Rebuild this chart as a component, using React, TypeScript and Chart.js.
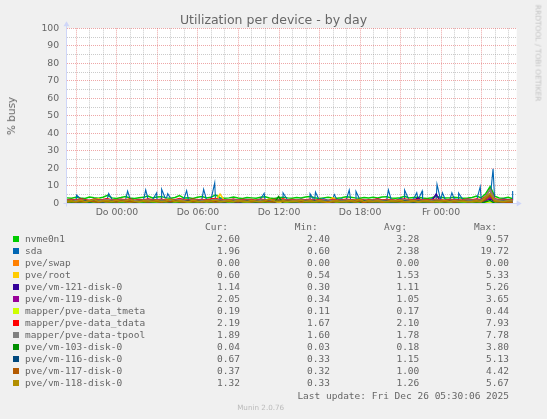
import { Fragment, useEffect, useRef } from 'react';
import Chart from 'chart.js/auto';

// sample grid: hours relative to "Do 00:00", one sample every 20 minutes
const T0 = -3.7;
const STEP = 1 / 3;
const X_MIN = -3.72;
const X_MAX = 29.6;

const hourTicks = [-3, -2, -1, 0, 1, 2, 3, 4, 5, 6, 7, 8, 9, 10, 11, 12, 13, 14, 15, 16, 17, 18, 19, 20, 21, 22, 23, 24, 25, 26, 27, 28, 29];
const labelHours = [0, 6, 12, 18, 24];
const labelTexts = ['Do 00:00', 'Do 06:00', 'Do 12:00', 'Do 18:00', 'Fr 00:00'];

const devices = [
  'nvme0n1', 'sda', 'pve/swap', 'pve/root', 'pve/vm-121-disk-0', 'pve/vm-119-disk-0',
  'mapper/pve-data_tmeta', 'mapper/pve-data_tdata', 'mapper/pve-data-tpool',
  'pve/vm-103-disk-0', 'pve/vm-116-disk-0', 'pve/vm-117-disk-0', 'pve/vm-118-disk-0',
];
const colors = [
  '#00CC00', '#0066B3', '#FF8000', '#FFCC00', '#330099', '#990099', '#CCFF00',
  '#FF0000', '#808080', '#008F00', '#00487D', '#B35A00', '#B38F00',
];
const curValues = ['2.60', '1.96', '0.00', '0.60', '1.14', '2.05', '0.19', '2.19', '1.89', '0.04', '0.67', '0.37', '1.32'];
const minValues = ['2.40', '0.60', '0.00', '0.54', '0.30', '0.34', '0.11', '1.67', '1.60', '0.03', '0.33', '0.32', '0.33'];
const avgValues = ['3.28', '2.38', '0.00', '1.53', '1.11', '1.05', '0.17', '2.10', '1.78', '0.18', '1.15', '1.00', '1.26'];
const maxValues = ['9.57', '19.72', '0.00', '5.33', '5.26', '3.65', '0.44', '7.93', '7.78', '3.80', '5.13', '4.42', '5.67'];

const nvme0n1 = [
  3.1, 2.9, 3.4, 3.0, 2.8, 3.6, 3.2, 2.9, 3.5, 4.6,
  3.1, 2.8, 3.3, 3.9, 3.0, 2.7, 3.2, 3.4, 4.1, 3.0,
  3.6, 3.8, 3.1, 2.9, 3.3, 4.4, 3.0, 3.2, 2.8, 3.5,
  3.9, 3.1, 3.4, 4.8, 3.2, 2.9, 3.1, 3.6, 3.0, 2.8,
  3.3, 3.1, 2.9, 3.4, 3.7, 3.0, 2.8, 3.2, 3.5, 3.1,
  2.9, 3.3, 3.0, 3.6, 3.9, 3.2, 2.8, 3.1, 3.4, 3.0,
  2.9, 3.2, 3.7, 3.5, 3.1, 2.9, 3.3, 3.0, 3.4, 3.1,
  3.6, 3.8, 3.0, 2.9, 3.2, 4.0, 3.1, 3.3, 3.5, 3.0,
  2.8, 3.2, 3.9, 3.4, 3.0, 3.1, 3.5, 3.2, 2.9, 3.0,
  3.3, 4.2, 3.1, 5.5, 9.57, 4.1, 3.0, 2.9, 3.4, 2.6,
];
const sda = [
  1.8, 2.2, 1.5, 2.6, 1.9, 1.3, 2.4, 2.0, 1.7, 2.9,
  2.1, 1.6, 2.3, 1.9, 2.7, 1.4, 2.2, 1.8, 2.5, 2.0,
  1.7, 2.4, 1.9, 2.8, 1.5, 2.1, 2.6, 1.8, 2.3, 1.6,
  2.5, 1.9, 2.2, 1.4, 2.7, 2.0, 1.8, 2.4, 1.6, 2.1,
  2.3, 0.9, 1.8, 2.5, 2.0, 1.7, 2.2, 1.5, 2.6, 1.9,
  2.1, 1.6, 2.4, 1.8, 2.2, 1.3, 2.0, 2.7, 1.7, 2.3,
  1.9, 2.5, 1.6, 2.2, 1.8, 2.4, 0.6, 2.1, 1.9, 2.6,
  2.0, 1.7, 2.3, 1.5, 2.8, 2.1, 1.8, 2.4, 1.9, 2.2,
  1.6, 2.5, 2.0, 1.8, 2.3, 1.7, 2.6, 2.1, 1.9, 2.4,
  2.2, 1.8, 2.7, 2.0, 2.5, 2.3, 1.9, 2.6, 2.2, 1.96,
];
// short sda bursts that fall between the 20-minute samples
const sdaPeakHours = [-2.99, -0.61, 0.79, 2.13, 2.94, 3.31, 3.76, 5.16, 6.42, 7.24, 10.9, 12.3, 14.3, 14.7, 16.1, 17.2, 17.7, 20.1, 21.3, 22.2, 22.6, 23.7, 24.1, 24.8, 25.3, 26.9, 27.85, 29.3];
const sdaPeakValues = [4.7, 5.6, 7.0, 7.6, 6.0, 8.0, 5.5, 7.2, 8.0, 11.7, 5.7, 6.0, 5.5, 6.4, 5.0, 7.6, 6.8, 7.6, 7.6, 6.0, 7.0, 10.8, 6.0, 6.0, 5.8, 9.5, 19.72, 7.0];
const pveSwap = [
  0, 0, 0, 0, 0, 0, 0, 0, 0, 0,
  0, 0, 0, 0, 0, 0, 0, 0, 0, 0,
  0, 0, 0, 0, 0, 0, 0, 0, 0, 0,
  0, 0, 0, 0, 0, 0, 0, 0, 0, 0,
  0, 0, 0, 0, 0, 0, 0, 0, 0, 0,
  0, 0, 0, 0, 0, 0, 0, 0, 0, 0,
  0, 0, 0, 0, 0, 0, 0, 0, 0, 0,
  0, 0, 0, 0, 0, 0, 0, 0, 0, 0,
  0, 0, 0, 0, 0, 0, 0, 0, 0, 0,
  0, 0, 0, 0, 0, 0, 0, 0, 0, 0,
];
const pveRoot = [
  1.4, 1.8, 1.2, 2.1, 1.5, 0.9, 1.7, 2.6, 1.3, 1.6,
  1.1, 1.9, 1.4, 2.3, 1.0, 1.6, 1.3, 1.8, 2.0, 1.2,
  1.7, 1.4, 2.4, 1.1, 1.5, 1.9, 1.3, 1.6, 1.0, 2.2,
  1.4, 1.8, 1.2, 1.6, 5.33, 1.5, 1.1, 1.7, 1.3, 2.0,
  1.5, 1.2, 1.8, 1.4, 1.0, 1.9, 1.6, 1.3, 2.5, 1.4,
  1.1, 1.7, 1.3, 1.9, 1.5, 1.2, 1.8, 1.4, 1.0, 3.2,
  1.6, 1.3, 1.7, 1.1, 2.1, 1.5, 1.2, 1.8, 1.4, 1.6,
  1.3, 1.9, 1.2, 1.5, 1.7, 1.0, 2.3, 1.4, 1.6, 1.2,
  1.8, 1.5, 1.1, 1.7, 1.3, 2.0, 1.4, 1.6, 1.2, 1.9,
  1.5, 1.3, 1.7, 2.8, 4.1, 1.6, 1.2, 1.4, 0.9, 0.6,
];
const vm121 = [
  0.9, 1.3, 0.7, 1.1, 1.6, 0.8, 1.2, 0.5, 1.4, 1.0,
  0.8, 1.5, 1.1, 0.6, 1.3, 0.9, 1.7, 1.0, 0.7, 1.2,
  1.4, 0.8, 1.1, 1.9, 0.9, 1.2, 0.6, 1.3, 1.0, 0.8,
  1.5, 1.1, 0.7, 1.3, 0.9, 1.6, 1.0, 0.4, 1.2, 0.9,
  1.1, 1.4, 0.8, 1.0, 1.3, 0.7, 1.2, 0.9, 1.5, 1.0,
  0.8, 1.2, 1.0, 0.6, 1.4, 1.1, 0.9, 1.3, 0.7, 1.0,
  1.2, 0.9, 1.5, 1.0, 0.8, 1.3, 1.1, 0.3, 1.2, 0.9,
  1.0, 1.4, 0.8, 1.1, 1.3, 0.9, 1.2, 1.6, 3.1, 1.1,
  0.9, 1.3, 5.26, 1.0, 1.2, 0.8, 1.4, 1.1, 0.9, 1.3,
  1.0, 0.8, 1.2, 1.9, 2.4, 1.1, 0.9, 1.3, 1.0, 1.14,
];
const vm119 = [
  1.0, 0.7, 1.3, 0.9, 1.5, 0.6, 1.1, 1.4, 0.8, 1.2,
  0.9, 1.6, 0.7, 1.1, 1.3, 0.8, 1.0, 1.4, 0.6, 1.2,
  1.1, 0.8, 1.5, 0.9, 1.2, 0.7, 1.3, 1.0, 1.6, 0.8,
  1.2, 0.9, 1.4, 0.6, 1.1, 1.3, 0.8, 1.5, 1.0, 0.7,
  1.3, 1.0, 0.8, 1.2, 0.9, 1.4, 0.7, 1.1, 1.3, 0.9,
  1.0, 1.5, 0.8, 1.2, 0.6, 1.1, 1.4, 0.9, 1.2, 0.8,
  1.4, 0.7, 1.0, 1.3, 0.9, 1.1, 0.34, 1.2, 0.8, 1.5,
  0.9, 1.2, 1.0, 0.7, 1.4, 1.1, 0.8, 1.3, 0.9, 1.0,
  1.2, 0.8, 1.1, 1.5, 0.9, 1.3, 0.7, 1.0, 1.2, 0.9,
  1.1, 1.4, 0.8, 1.2, 3.65, 1.0, 0.9, 1.3, 1.1, 2.05,
];
const tmeta = [
  0.15, 0.18, 0.14, 0.21, 0.16, 0.13, 0.19, 0.17, 0.15, 0.22,
  0.16, 0.14, 0.18, 0.13, 0.20, 0.15, 0.17, 0.12, 0.19, 0.16,
  0.18, 0.15, 0.21, 0.14, 0.17, 0.16, 0.13, 0.19, 0.15, 0.18,
  0.14, 0.20, 0.16, 0.17, 0.13, 0.18, 0.15, 0.19, 0.16, 0.14,
  0.17, 0.15, 0.19, 0.13, 0.16, 0.18, 0.14, 0.20, 0.15, 0.17,
  0.16, 0.13, 0.18, 0.15, 0.19, 0.14, 0.17, 0.16, 0.11, 0.18,
  0.15, 0.17, 0.14, 0.19, 0.16, 0.18, 0.13, 0.17, 0.15, 0.20,
  0.16, 0.14, 0.18, 0.15, 0.17, 0.13, 0.19, 0.16, 0.14, 0.18,
  0.17, 0.15, 0.20, 0.14, 0.16, 0.18, 0.15, 0.17, 0.13, 0.19,
  0.16, 0.18, 0.15, 0.31, 0.44, 0.17, 0.15, 0.18, 0.16, 0.19,
];
const tdata = [
  2.0, 2.2, 1.9, 2.4, 2.1, 1.8, 2.3, 2.0, 2.2, 2.6,
  1.9, 2.1, 2.3, 2.0, 2.5, 1.8, 2.2, 1.9, 2.4, 2.1,
  2.0, 2.3, 1.8, 2.2, 2.0, 2.7, 1.9, 2.1, 2.3, 2.0,
  2.2, 1.9, 2.4, 2.8, 2.1, 1.8, 2.0, 2.3, 1.9, 2.2,
  2.0, 2.1, 1.8, 2.3, 2.0, 1.9, 2.2, 2.0, 2.4, 1.8,
  2.1, 1.9, 2.2, 2.0, 2.3, 1.8, 2.1, 1.9, 1.67, 2.2,
  2.0, 1.9, 2.3, 2.1, 1.8, 2.2, 2.0, 1.9, 2.1, 2.4,
  1.9, 2.2, 2.0, 1.8, 2.1, 2.5, 2.0, 1.9, 2.2, 2.0,
  2.1, 1.9, 2.3, 2.0, 1.8, 2.2, 2.1, 1.9, 2.0, 2.3,
  2.0, 2.4, 2.1, 3.9, 7.93, 2.6, 2.0, 2.2, 1.9, 2.19,
];
const tpool = [
  1.7, 1.8, 1.6, 1.9, 1.7, 1.65, 1.8, 1.7, 1.75, 2.1,
  1.7, 1.8, 1.9, 1.7, 2.0, 1.6, 1.8, 1.7, 1.9, 1.75,
  1.7, 1.9, 1.6, 1.8, 1.7, 2.2, 1.65, 1.8, 1.9, 1.7,
  1.8, 1.65, 1.9, 2.3, 1.8, 1.6, 1.7, 1.85, 1.7, 1.8,
  1.7, 1.75, 1.6, 1.9, 1.7, 1.65, 1.8, 1.7, 1.9, 1.6,
  1.8, 1.7, 1.85, 1.7, 1.9, 1.6, 1.75, 1.7, 1.6, 1.8,
  1.7, 1.65, 1.9, 1.75, 1.6, 1.8, 1.7, 1.65, 1.75, 1.9,
  1.65, 1.8, 1.7, 1.6, 1.75, 2.0, 1.7, 1.65, 1.8, 1.7,
  1.75, 1.65, 1.9, 1.7, 1.6, 1.8, 1.75, 1.65, 1.7, 1.85,
  1.7, 1.95, 1.75, 3.6, 7.78, 2.2, 1.7, 1.8, 1.65, 1.89,
];
const vm103 = [
  0.08, 0.12, 0.05, 0.15, 0.07, 0.10, 0.06, 0.13, 0.09, 0.05,
  0.11, 0.07, 0.14, 0.06, 0.09, 0.12, 0.05, 0.10, 0.08, 0.13,
  0.06, 0.10, 0.08, 0.15, 0.07, 0.11, 0.05, 0.09, 0.12, 0.06,
  0.10, 0.07, 0.13, 0.05, 0.09, 0.11, 0.06, 0.08, 0.12, 0.07,
  0.09, 0.05, 0.11, 0.08, 0.14, 0.06, 0.10, 3.80, 0.07, 0.09,
  0.12, 0.06, 0.08, 0.10, 0.05, 0.13, 0.07, 0.09, 0.11, 0.06,
  0.08, 0.12, 0.05, 0.10, 0.07, 0.09, 1.40, 0.06, 0.11, 0.08,
  0.05, 0.10, 0.07, 0.12, 0.06, 0.09, 0.08, 0.11, 0.05, 0.10,
  0.07, 0.09, 0.12, 0.06, 0.10, 0.08, 0.05, 0.11, 0.07, 0.09,
  0.06, 0.10, 0.08, 0.90, 1.60, 0.07, 0.05, 0.08, 0.06, 0.04,
];
const vm116 = [
  1.0, 1.4, 0.8, 1.2, 1.6, 0.9, 1.3, 1.1, 0.7, 1.5,
  1.2, 0.9, 1.4, 1.0, 1.7, 0.8, 1.1, 1.3, 0.9, 1.2,
  1.5, 1.0, 1.2, 0.8, 1.4, 1.1, 0.9, 1.6, 1.0, 1.3,
  0.9, 1.2, 1.4, 1.0, 1.1, 0.8, 1.5, 1.2, 0.33, 1.1,
  1.3, 1.0, 1.2, 0.9, 1.4, 1.1, 0.8, 1.3, 1.0, 1.5,
  1.1, 0.9, 1.3, 1.2, 1.0, 1.4, 0.9, 1.2, 1.1, 0.8,
  1.4, 1.0, 1.2, 0.9, 1.3, 1.1, 1.5, 1.0, 1.2, 0.9,
  1.1, 1.3, 0.9, 1.2, 1.0, 1.4, 1.1, 0.8, 1.3, 1.0,
  1.2, 0.9, 1.4, 1.1, 1.0, 1.3, 0.9, 1.2, 1.5, 1.0,
  1.1, 1.3, 1.0, 2.6, 5.13, 1.2, 0.9, 1.1, 0.8, 0.67,
];
const vm117 = [
  0.9, 1.2, 0.7, 1.1, 0.8, 1.3, 1.0, 0.6, 1.2, 0.9,
  1.1, 0.8, 1.4, 0.9, 1.0, 0.7, 1.2, 1.1, 0.8, 1.3,
  1.0, 0.7, 1.1, 0.9, 1.3, 1.0, 0.8, 1.2, 0.9, 1.1,
  0.8, 1.2, 1.0, 0.7, 1.1, 0.9, 1.3, 1.0, 0.8, 1.2,
  1.0, 0.9, 1.1, 0.8, 1.2, 1.0, 0.7, 1.1, 0.9, 1.3,
  0.9, 1.1, 0.8, 1.0, 1.2, 0.9, 1.1, 0.7, 1.0, 0.8,
  1.2, 0.9, 1.0, 1.1, 0.8, 1.3, 0.32, 1.0, 0.9, 1.1,
  0.8, 1.0, 1.2, 0.9, 1.1, 0.7, 1.0, 1.2, 0.9, 1.0,
  1.1, 0.8, 1.0, 1.2, 0.9, 1.1, 0.8, 1.0, 1.3, 0.9,
  1.0, 1.2, 0.9, 2.3, 4.42, 1.1, 0.9, 0.8, 0.6, 0.37,
];
const vm118 = [
  1.2, 1.5, 0.9, 1.8, 1.1, 1.4, 2.2, 1.0, 1.3, 1.6,
  1.1, 1.7, 1.0, 1.4, 2.0, 1.2, 0.9, 1.5, 1.3, 1.1,
  1.6, 1.0, 1.3, 2.4, 1.1, 1.4, 1.2, 0.9, 1.7, 1.2,
  1.0, 1.5, 1.3, 1.8, 1.1, 1.2, 1.6, 1.0, 1.4, 1.3,
  1.1, 1.6, 1.2, 1.0, 1.5, 2.6, 1.3, 1.1, 1.4, 1.0,
  1.3, 1.2, 1.7, 1.1, 1.4, 1.0, 1.5, 1.2, 0.33, 1.3,
  1.4, 1.1, 1.3, 1.6, 1.2, 2.1, 1.0, 1.4, 1.2, 1.5,
  1.2, 1.0, 1.4, 1.3, 1.7, 1.1, 1.2, 1.5, 1.0, 1.3,
  1.5, 1.1, 1.3, 1.2, 1.6, 1.0, 1.4, 1.2, 1.3, 1.1,
  1.2, 1.4, 1.1, 3.4, 5.67, 1.5, 1.2, 1.0, 1.3, 1.32,
];

const seriesValues = [nvme0n1, sda, pveSwap, pveRoot, vm121, vm119, tmeta, tdata, tpool, vm103, vm116, vm117, vm118];

const FONT = '#666666';
const AXIS = '#CFD6F8';
const MGRID = 'rgba(222, 80, 80, 0.5)';
const GRID = 'rgba(140, 140, 140, 0.45)';
const sans = "'DejaVu Sans', sans-serif";
const mono = "'DejaVu Sans Mono', monospace";

const toPoints = (values: number[]) => values.map((y, i) => ({ x: T0 + i * STEP, y }));

const canvasBack = {
  id: 'canvasBack',
  beforeDraw(chart: any) {
    const { ctx, chartArea } = chart;
    ctx.save();
    ctx.fillStyle = '#FFFFFF';
    ctx.fillRect(chartArea.left, chartArea.top, chartArea.right - chartArea.left, chartArea.bottom - chartArea.top);
    ctx.restore();
  },
};

// rrdtool style axis lines with arrow heads
const axisArrows = {
  id: 'axisArrows',
  afterDatasetsDraw(chart: any) {
    const { ctx, chartArea } = chart;
    const x0 = Math.round(chartArea.left) - 0.5;
    const y0 = Math.round(chartArea.bottom) + 0.5;
    ctx.save();
    ctx.strokeStyle = AXIS;
    ctx.fillStyle = AXIS;
    ctx.lineWidth = 1;
    ctx.beginPath();
    ctx.moveTo(x0, y0 + 3);
    ctx.lineTo(x0, chartArea.top - 4);
    ctx.moveTo(x0 - 3, y0);
    ctx.lineTo(chartArea.right + 1, y0);
    ctx.stroke();
    ctx.beginPath();
    ctx.moveTo(x0 - 3, chartArea.top - 2);
    ctx.lineTo(x0 + 3, chartArea.top - 2);
    ctx.lineTo(x0, chartArea.top - 7);
    ctx.closePath();
    ctx.fill();
    ctx.beginPath();
    ctx.moveTo(chartArea.right, y0 - 3);
    ctx.lineTo(chartArea.right, y0 + 3);
    ctx.lineTo(chartArea.right + 5, y0);
    ctx.closePath();
    ctx.fill();
    ctx.restore();
  },
};

export default function App() {
  const canvasRef = useRef<HTMLCanvasElement>(null);

  useEffect(() => {
    if (!canvasRef.current) return;

    const datasets = seriesValues.map((values, i) => {
      let data = toPoints(values);
      if (i === 1) {
        data = [...data, ...sdaPeakHours.map((x, k) => ({ x, y: sdaPeakValues[k] }))].sort((a, b) => a.x - b.x);
      }
      return {
        label: devices[i],
        data,
        borderColor: colors[i],
        backgroundColor: colors[i],
        borderWidth: i === 1 ? 1.1 : 1.5,
        pointRadius: 0,
        tension: 0,
        fill: false,
        order: -i,
      };
    });

    const chart = new Chart(canvasRef.current, {
      type: 'line',
      data: { datasets },
      options: {
        animation: false,
        responsive: false,
        events: [],
        layout: { padding: { top: 28.3, right: 30.3, bottom: 0, left: 0 } },
        plugins: {
          legend: { display: false },
          tooltip: { enabled: false },
        },
        scales: {
          x: {
            type: 'linear',
            min: X_MIN,
            max: X_MAX,
            afterBuildTicks: (scale: any) => {
              scale.ticks = hourTicks.map((value) => ({ value }));
            },
            afterFit: (scale: any) => {
              scale.height = 419 - 203.3;
            },
            ticks: {
              autoSkip: false,
              maxRotation: 0,
              minRotation: 0,
              padding: 3.5,
              color: FONT,
              font: { family: sans, size: 9.3 },
              callback: (value: any) => {
                const k = labelHours.indexOf(Number(value));
                return k >= 0 ? labelTexts[k] : '';
              },
            },
            grid: {
              drawTicks: false,
              lineWidth: 1,
              color: (ctx: any) => (ctx.tick && ctx.tick.value % 3 === 0 ? MGRID : GRID),
            },
            border: { display: false, dash: [1, 1] },
          },
          y: {
            min: 0,
            max: 100,
            afterFit: (scale: any) => {
              scale.width = 66.7;
            },
            ticks: {
              stepSize: 5,
              autoSkip: false,
              padding: 7.5,
              color: FONT,
              font: { family: sans, size: 9.3 },
              callback: (value: any) => (Number(value) % 10 === 0 ? String(value) : ''),
            },
            grid: {
              drawTicks: false,
              lineWidth: 1,
              color: (ctx: any) => (ctx.tick && ctx.tick.value % 10 === 0 ? MGRID : GRID),
            },
            border: { display: false, dash: [1, 1] },
          },
        },
      },
      plugins: [canvasBack, axisArrows],
    });

    return () => {
      chart.destroy();
    };
  }, []);

  const cell: any = { position: 'absolute', font: `9.5px ${mono}`, lineHeight: '12px', color: FONT, whiteSpace: 'pre' };
  const right = (edge: number, top: number, text: string, key?: string) => (
    <div key={key} style={{ ...cell, left: 0, width: edge, top, textAlign: 'right' }}>{text}</div>
  );

  return (
    <div style={{ position: 'fixed', left: 0, top: 0, width: 547, height: 419, background: '#F0F0F0', overflow: 'hidden' }}>
      <canvas ref={canvasRef} width={547} height={419} style={{ position: 'absolute', left: 0, top: 0 }} />
      <div style={{ position: 'absolute', left: 0, width: 547, top: 12, textAlign: 'center', font: `12.5px ${sans}`, lineHeight: '16px', color: FONT }}>
        Utilization per device - by day
      </div>
      <div style={{ position: 'absolute', left: 11, top: 115.7, transform: 'translate(-50%, -50%) rotate(-90deg)', whiteSpace: 'nowrap', font: `10.5px ${sans}`, color: FONT }}>
        % busy
      </div>
      <div style={{ position: 'absolute', left: 537.5, top: 53, transform: 'translate(-50%, -50%) rotate(90deg)', whiteSpace: 'nowrap', font: `7.5px ${sans}`, color: '#C4C4C4' }}>
        RRDTOOL / TOBI OETIKER
      </div>

      {right(228, 220.7, 'Cur:')}
      {right(317.7, 220.7, 'Min:')}
      {right(407, 220.7, 'Avg:')}
      {right(497, 220.7, 'Max:')}

      {devices.map((name, k) => {
        const top = 233.3 + 12 * k;
        return (
          <Fragment key={name}>
            <div style={{ position: 'absolute', left: 13, top: top + 3, width: 6, height: 6, background: colors[k] }} />
            <div style={{ ...cell, left: 25, top }}>{name}</div>
            {right(240, top, curValues[k])}
            {right(330, top, minValues[k])}
            {right(419.3, top, avgValues[k])}
            {right(509, top, maxValues[k])}
          </Fragment>
        );
      })}

      {right(509, 389.7, 'Last update: Fri Dec 26 05:30:06 2025')}
      <div style={{ position: 'absolute', left: 160.7, width: 200, top: 403, textAlign: 'center', font: `7.2px ${sans}`, lineHeight: '10px', color: '#BBBBBB' }}>
        Munin 2.0.76
      </div>
    </div>
  );
}
